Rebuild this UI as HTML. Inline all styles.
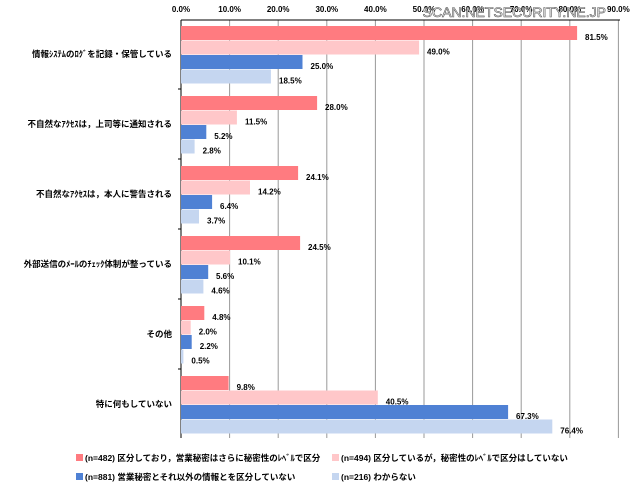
<!DOCTYPE html>
<html><head><meta charset="utf-8"><style>
body{margin:0;background:#fff;width:640px;height:491px;overflow:hidden;font-family:"Liberation Sans","Noto Sans CJK JP",sans-serif}
</style></head><body>
<svg width="640" height="491" xmlns="http://www.w3.org/2000/svg" font-family="Liberation Sans, Noto Sans CJK JP, sans-serif">
<g font-size="8" font-weight="bold" text-anchor="middle" fill="#000">
<text x="181" y="12">0.0%</text><text x="229.6" y="12">10.0%</text><text x="278.2" y="12">20.0%</text><text x="326.8" y="12">30.0%</text><text x="375.4" y="12">40.0%</text><text x="424" y="12">50.0%</text><text x="472.6" y="12">60.0%</text><text x="521.2" y="12">70.0%</text><text x="569.8" y="12">80.0%</text><text x="618.4" y="12">90.0%</text>
</g>
<g stroke="#999" stroke-width="1">
<line x1="229.6" y1="20" x2="229.6" y2="438"/><line x1="278.2" y1="20" x2="278.2" y2="438"/><line x1="326.8" y1="20" x2="326.8" y2="438"/><line x1="375.4" y1="20" x2="375.4" y2="438"/><line x1="424" y1="20" x2="424" y2="438"/><line x1="472.6" y1="20" x2="472.6" y2="438"/><line x1="521.2" y1="20" x2="521.2" y2="438"/><line x1="569.8" y1="20" x2="569.8" y2="438"/><line x1="618.4" y1="20" x2="618.4" y2="438"/>
</g>
<line x1="181" y1="20" x2="620" y2="20" stroke="#000"/>
<line x1="181" y1="20" x2="181" y2="438" stroke="#000"/>
<g stroke="#000"><line x1="178" y1="89" x2="181" y2="89"/><line x1="178" y1="159" x2="181" y2="159"/><line x1="178" y1="229" x2="181" y2="229"/><line x1="178" y1="299" x2="181" y2="299"/><line x1="178" y1="369" x2="181" y2="369"/></g>

<g font-size="8.5" font-weight="bold" text-anchor="end" fill="#000">
<text x="172" y="57">情報ｼｽﾃﾑのﾛｸﾞを記録・保管している</text>
<text x="172" y="127">不自然なｱｸｾｽは，上司等に通知される</text>
<text x="172" y="197">不自然なｱｸｾｽは，本人に警告される</text>
<text x="172" y="267">外部送信のﾒｰﾙのﾁｪｯｸ体制が整っている</text>
<text x="172" y="337">その他</text>
<text x="172" y="407">特に何もしていない</text>
</g>

<g>
<rect x="181" y="26" width="396.1" height="14" fill="#ff7b80"/>
<rect x="181" y="40.5" width="238.1" height="14" fill="#ffc7c9"/>
<rect x="181" y="55" width="121.5" height="14" fill="#4f81d4"/>
<rect x="181" y="69.5" width="89.9" height="14" fill="#c5d6f0"/>

<rect x="181" y="96" width="136.1" height="14" fill="#ff7b80"/>
<rect x="181" y="110.5" width="55.9" height="14" fill="#ffc7c9"/>
<rect x="181" y="125" width="25.3" height="14" fill="#4f81d4"/>
<rect x="181" y="139.5" width="13.6" height="14" fill="#c5d6f0"/>

<rect x="181" y="166" width="117.1" height="14" fill="#ff7b80"/>
<rect x="181" y="180.5" width="69" height="14" fill="#ffc7c9"/>
<rect x="181" y="195" width="31.1" height="14" fill="#4f81d4"/>
<rect x="181" y="209.5" width="18" height="14" fill="#c5d6f0"/>

<rect x="181" y="236" width="119.1" height="14" fill="#ff7b80"/>
<rect x="181" y="250.5" width="49.1" height="14" fill="#ffc7c9"/>
<rect x="181" y="265" width="27.2" height="14" fill="#4f81d4"/>
<rect x="181" y="279.5" width="22.4" height="14" fill="#c5d6f0"/>

<rect x="181" y="306" width="23.3" height="14" fill="#ff7b80"/>
<rect x="181" y="320.5" width="9.7" height="14" fill="#ffc7c9"/>
<rect x="181" y="335" width="10.7" height="14" fill="#4f81d4"/>
<rect x="181" y="349.5" width="2.4" height="14" fill="#c5d6f0"/>

<rect x="181" y="376" width="47.6" height="14" fill="#ff7b80"/>
<rect x="181" y="390.5" width="196.8" height="14" fill="#ffc7c9"/>
<rect x="181" y="405" width="327.1" height="14" fill="#4f81d4"/>
<rect x="181" y="419.5" width="371.3" height="14" fill="#c5d6f0"/>
</g>

<g font-size="8" font-weight="bold" fill="#000">
<text x="585" y="40">81.5%</text><text x="427" y="54.5">49.0%</text><text x="310.5" y="69">25.0%</text><text x="279" y="83.5">18.5%</text>
<text x="325" y="110">28.0%</text><text x="245" y="124.5">11.5%</text><text x="214.3" y="139">5.2%</text><text x="202.6" y="153.5">2.8%</text>
<text x="306" y="180">24.1%</text><text x="258" y="194.5">14.2%</text><text x="220" y="209">6.4%</text><text x="207" y="223.5">3.7%</text>
<text x="308" y="250">24.5%</text><text x="238" y="264.5">10.1%</text><text x="216" y="279">5.6%</text><text x="211.4" y="293.5">4.6%</text>
<text x="212.3" y="320">4.8%</text><text x="198.7" y="334.5">2.0%</text><text x="199.7" y="349">2.2%</text><text x="191.4" y="363.5">0.5%</text>
<text x="236.6" y="390">9.8%</text><text x="385.8" y="404.5">40.5%</text><text x="516" y="419">67.3%</text><text x="560.3" y="433.5">76.4%</text>
</g>

<text x="606" y="17" font-size="14" fill="#fff" stroke="#555" stroke-width="0.6" text-anchor="end">SCAN.NETSECURITY.NE.JP</text>
<g font-size="8.5" font-weight="bold" fill="#000">
<rect x="76" y="454" width="7" height="7" fill="#ff7b80"/><text x="85" y="461">(n=482) 区分しており，営業秘密はさらに秘密性のﾚﾍﾞﾙで区分</text>
<rect x="332" y="454" width="7" height="7" fill="#ffc7c9"/><text x="341" y="461">(n=494) 区分しているが，秘密性のﾚﾍﾞﾙで区分はしていない</text>
<rect x="76" y="473" width="7" height="7" fill="#4f81d4"/><text x="85" y="480">(n=881) 営業秘密とそれ以外の情報とを区分していない</text>
<rect x="332" y="473" width="7" height="7" fill="#c5d6f0"/><text x="341" y="480">(n=216) わからない</text>
</g>
</svg>
</body></html>
